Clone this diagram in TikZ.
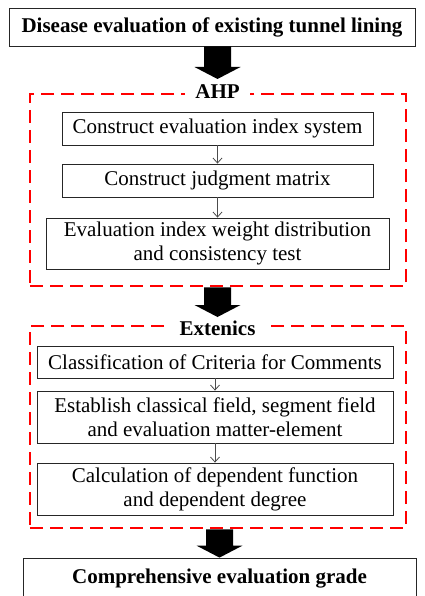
\documentclass[tikz,border=0pt]{standalone}
\usepackage{fontspec}
\setmainfont{Liberation Serif}
\usetikzlibrary{arrows.meta,calc}

% solid block arrow from #1 down to the tip #2 (both on the same vertical)
\newcommand\fatarrow[2]{%
  \fill[black] ($(#1)+(-13.5,0)$) -- ($(#2)+(-13.5,-12)$) -- ($(#2)+(-23,-12)$)
    -- (#2) -- ($(#2)+(23,-12)$) -- ($(#2)+(13.5,-12)$) -- ($(#1)+(13.5,0)$) -- cycle;}

\begin{document}
\begin{tikzpicture}[x=1pt,y=-1pt,
  box/.style={draw=black!85, line width=0.8pt, align=center, inner sep=0pt,
    font=\fontsize{21}{24}\selectfont},
  frame/.style={draw=red, line width=2.6pt, dash pattern=on 13pt off 7pt},
  tag/.style={fill=white, inner xsep=10pt, inner ysep=1pt, text height=14pt,
    text depth=0pt, font=\fontsize{21}{24}\selectfont\bfseries},
  link/.style={draw=black!70, line width=0.8pt, -{Straight Barb[length=5pt,width=9pt]}}]

\useasboundingbox (0,0) rectangle (424,596);

% input
\node[box, minimum width=406pt, minimum height=38pt] (src) at (212,27)
  {\bfseries Disease evaluation of existing tunnel lining};

% AHP stage
\node[frame, minimum width=376pt, minimum height=192pt] (ahp) at (218,190) {};
\node[tag] (ahptag) at (217.5,92) {AHP};
\node[box, minimum width=311pt, minimum height=33pt] (b1) at (217.5,128.5)
  {Construct evaluation index system};
\node[box, minimum width=311pt, minimum height=33pt] (b2) at (217.5,180.5)
  {Construct judgment matrix};
\node[box, minimum width=343pt, minimum height=51pt] (b3) at (217.5,243.5)
  {Evaluation index weight distribution\\and consistency test};

% Extenics stage
\node[frame, minimum width=376pt, minimum height=202pt] (ext) at (218,427) {};
\node[tag] (exttag) at (217.5,328) {Extenics};
\node[box, minimum width=356pt, minimum height=32pt] (b4) at (215,362)
  {Classification of Criteria for Comments};
\node[box, minimum width=356pt, minimum height=52pt] (b5) at (215,417)
  {Establish classical field, segment field\\and evaluation matter-element};
\node[box, minimum width=356pt, minimum height=52pt] (b6) at (215,489)
  {Calculation of dependent function\\and dependent degree};

% result
\node[box, minimum width=393pt, minimum height=42pt] (res) at (219.5,579)
  {\bfseries Comprehensive evaluation grade};

% step links
\draw[link] (b1.south) -- (b2.north);
\draw[link] (b2.south) -- (b3.north);
\draw[link] (b4.south) -- (b5.north);
\draw[link] (b5.south) -- (b6.north);

% block arrows between stages
\coordinate (tip1) at (217.5,79);
\coordinate (tip2) at (217.5,317);
\fatarrow{src.south -| tip1}{tip1}
\fatarrow{ahp.south -| tip2}{tip2}
\fatarrow{ext.south -| res.north}{res.north}
\end{tikzpicture}
\end{document}
